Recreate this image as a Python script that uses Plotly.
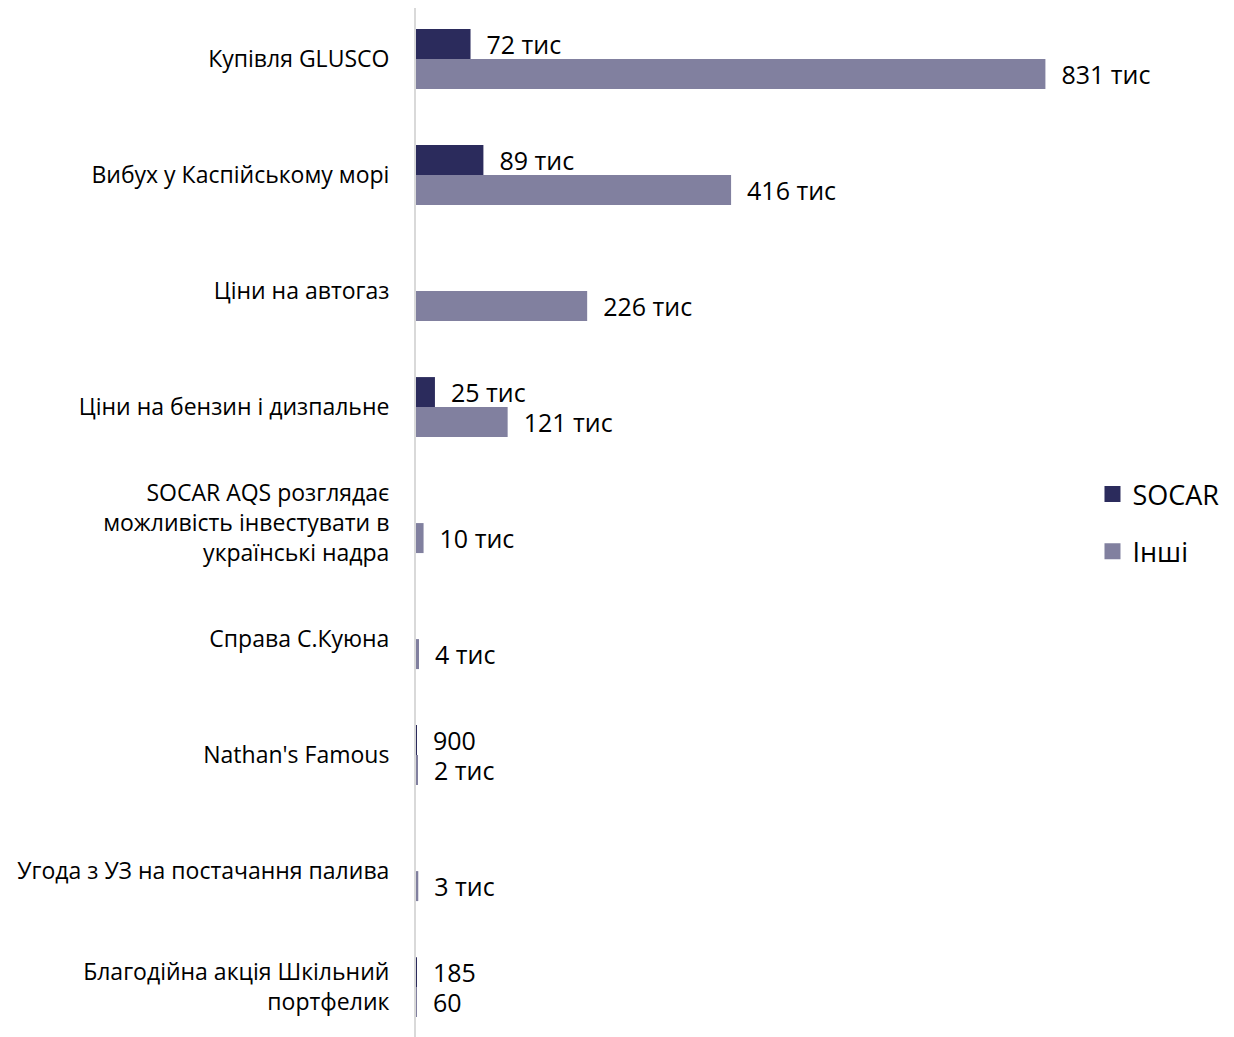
import plotly.graph_objects as go

categories = [
    "Купівля GLUSCO",
    "Вибух у Каспійському морі",
    "Ціни на автогаз",
    "Ціни на бензин і дизпальне",
    "SOCAR AQS розглядає<br>можливість інвестувати в<br>українські надра",
    "Справа С.Куюна",
    "Nathan's Famous",
    "Угода з УЗ на постачання палива",
    "Благодійна акція Шкільний<br>портфелик",
]
socar_values = [72000, 89000, None, 25000, None, None, 900, None, 185]
socar_labels = ["72 тис", "89 тис", "", "25 тис", "", "", "900", "", "185"]
other_values = [831000, 416000, 226000, 121000, 10000, 4000, 2000, 3000, 60]
other_labels = ["831 тис", "416 тис", "226 тис", "121 тис", "10 тис", "4 тис", "2 тис", "3 тис", "60"]

FONT = "Open Sans"
pad = "\u00a0\u00a0"
SOCAR_COLOR = "#2b2b5c"
OTHER_COLOR = "#81809f"

fig = go.Figure()
fig.add_trace(go.Bar(
    y=categories, x=socar_values, orientation="h", name="SOCAR",
    marker=dict(color=SOCAR_COLOR, line=dict(width=0)),
    text=[pad + t if t else "" for t in socar_labels], textposition="outside",
    textfont=dict(family=FONT, size=25, color="#000000"),
    constraintext="none", cliponaxis=False, showlegend=False, hoverinfo="x+y",
))
fig.add_trace(go.Bar(
    y=categories, x=other_values, orientation="h", name="Інші",
    marker=dict(color=OTHER_COLOR, line=dict(width=0)),
    text=[pad + t for t in other_labels], textposition="outside",
    textfont=dict(family=FONT, size=25, color="#000000"),
    constraintext="none", cliponaxis=False, showlegend=False, hoverinfo="x+y",
))
# legend entries with larger square swatches
for nm, col, grp in [("SOCAR", SOCAR_COLOR, "a"), ("Інші", OTHER_COLOR, "b")]:
    fig.add_trace(go.Scatter(
        x=[None], y=[None], mode="markers", name=nm, legendgroup=grp,
        marker=dict(symbol="square", size=19, color=col),
        showlegend=True, hoverinfo="skip",
    ))

fig.update_layout(
    width=1226, height=1029,
    margin=dict(l=408, r=0, t=0, b=0),
    paper_bgcolor="white", plot_bgcolor="white",
    barmode="group", bargap=0.483, bargroupgap=0,
    font=dict(family=FONT, color="#000000"),
    showlegend=True,
    legend=dict(x=0.827, y=0.551, xanchor="left", yanchor="top",
                font=dict(family=FONT, size=27, color="#000000"),
                traceorder="grouped", tracegroupgap=19, itemwidth=30,
                bgcolor="rgba(0,0,0,0)"),
    xaxis=dict(range=[0, 1080000], visible=False, showgrid=False, zeroline=False),
    yaxis=dict(type="category", range=[8.43, -0.44], showgrid=False, zeroline=False,
               showline=True, linecolor="#d9d9d9", linewidth=2,
               ticks="", ticklabelstandoff=20,
               tickfont=dict(family=FONT, size=23, color="#000000")),
)

fig.write_html("out.html")
